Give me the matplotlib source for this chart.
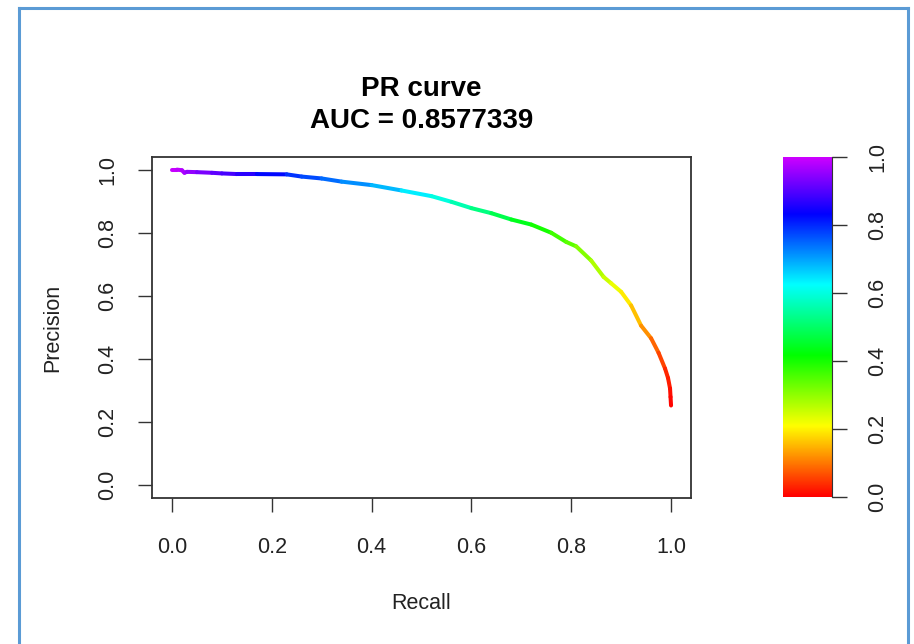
import numpy as np
import matplotlib
matplotlib.use("Agg")
import matplotlib.pyplot as plt
from matplotlib.collections import LineCollection
from matplotlib.colors import ListedColormap, hsv_to_rgb
from matplotlib.lines import Line2D

# values
recall = [0.0, 0.01, 0.02, 0.025, 0.03, 0.05, 0.08, 0.10, 0.13, 0.17,
          0.23, 0.26, 0.30, 0.34, 0.40, 0.46, 0.52, 0.56, 0.60, 0.64,
          0.68, 0.72, 0.76, 0.79, 0.81, 0.84, 0.865, 0.88, 0.90, 0.92,
          0.94, 0.96, 0.975, 0.988, 0.994, 0.998, 0.999, 1.0]
precision = [1.0, 1.0, 0.998, 0.99, 0.993, 0.992, 0.99, 0.988, 0.986, 0.986,
             0.985, 0.978, 0.972, 0.962, 0.951, 0.934, 0.916, 0.898, 0.878, 0.862,
             0.842, 0.826, 0.800, 0.771, 0.757, 0.712, 0.66, 0.64, 0.613, 0.57,
             0.506, 0.466, 0.42, 0.37, 0.34, 0.307, 0.28, 0.253]
threshold = [1.0, 0.99, 0.98, 0.97, 0.96, 0.94, 0.92, 0.90, 0.88, 0.85,
             0.80, 0.78, 0.76, 0.73, 0.70, 0.66, 0.62, 0.58, 0.54, 0.50,
             0.46, 0.42, 0.38, 0.35, 0.33, 0.29, 0.26, 0.24, 0.21, 0.18,
             0.14, 0.10, 0.07, 0.04, 0.03, 0.02, 0.01, 0.0]

ticks = [0.0, 0.2, 0.4, 0.6, 0.8, 1.0]
tick_labels = ["0.0", "0.2", "0.4", "0.6", "0.8", "1.0"]
title = "PR curve\nAUC = 0.8577339"

plt.rcParams['font.family'] = ['Liberation Sans', 'DejaVu Sans']

# rainbow like R: hue 0 (red) .. 0.8 (violet)
hues = np.linspace(0, 0.8, 256)
hsv = np.stack([hues, np.ones(256), np.ones(256)], axis=1)
cmap = ListedColormap(hsv_to_rgb(hsv))

fig = plt.figure(figsize=(9.14, 6.44), dpi=100)

ax = fig.add_axes([152 / 914, 1 - 498 / 644, 539 / 914, 341 / 644])
pts = np.column_stack([recall, precision]).reshape(-1, 1, 2)
segs = np.concatenate([pts[:-1], pts[1:]], axis=1)
seg_vals = (np.array(threshold[:-1]) + np.array(threshold[1:])) / 2
lc = LineCollection(segs, cmap=cmap, linewidths=2.9, capstyle='round')
lc.set_array(seg_vals)
lc.set_clim(0, 1)
ax.add_collection(lc)

ax.set_xlim(-0.04, 1.04)
ax.set_ylim(-0.04, 1.04)
ax.set_xticks(ticks)
ax.set_xticklabels(tick_labels)
ax.set_yticks(ticks)
ax.set_yticklabels(tick_labels, rotation=90, va='center')
ax.tick_params(axis='both', length=10, width=1, color='#333333', labelsize=15.5,
               labelcolor='#222222')
ax.tick_params(axis='x', pad=18)
ax.tick_params(axis='y', pad=14.5)
for s in ax.spines.values():
    s.set_color('#333333')
    s.set_linewidth(1.3)
ax.set_xlabel("Recall", fontsize=15.5, labelpad=25.5, color='#222222')
ax.set_ylabel("Precision", fontsize=15.5, labelpad=24, color='#222222')
ax.set_title(title, fontsize=20, fontweight='bold', pad=21, linespacing=1.27)

# color key
cax = fig.add_axes([783 / 914, 1 - 497 / 644, 49 / 914, 340 / 644])
grad = np.linspace(0, 1, 256).reshape(-1, 1)
cax.imshow(grad, cmap=cmap, aspect='auto', origin='lower', extent=[0, 1, 0, 1])
cax.set_xlim(0, 1)
cax.set_ylim(0, 1)
cax.set_xticks([])
cax.yaxis.tick_right()
cax.set_yticks(ticks)
cax.set_yticklabels(tick_labels, rotation=90, va='center')
cax.tick_params(axis='y', length=11, width=1, color='#333333', labelsize=15.5,
                labelcolor='#222222', pad=14.5)
for k in ['left', 'top', 'bottom']:
    cax.spines[k].set_visible(False)
cax.spines['right'].set_color('#333333')

# light blue frame around the picture
fc = '#5B9BD5'
fig.add_artist(Line2D([18.5 / 914, 18.5 / 914], [0, 1 - 7.5 / 644],
                      transform=fig.transFigure, color=fc, linewidth=2.2))
fig.add_artist(Line2D([18.5 / 914, 908 / 914], [1 - 7.5 / 644, 1 - 7.5 / 644],
                      transform=fig.transFigure, color=fc, linewidth=2.2))
fig.add_artist(Line2D([908 / 914, 908 / 914], [0, 1 - 7.5 / 644],
                      transform=fig.transFigure, color=fc, linewidth=2.2))

fig.savefig("out.png", dpi=100)
